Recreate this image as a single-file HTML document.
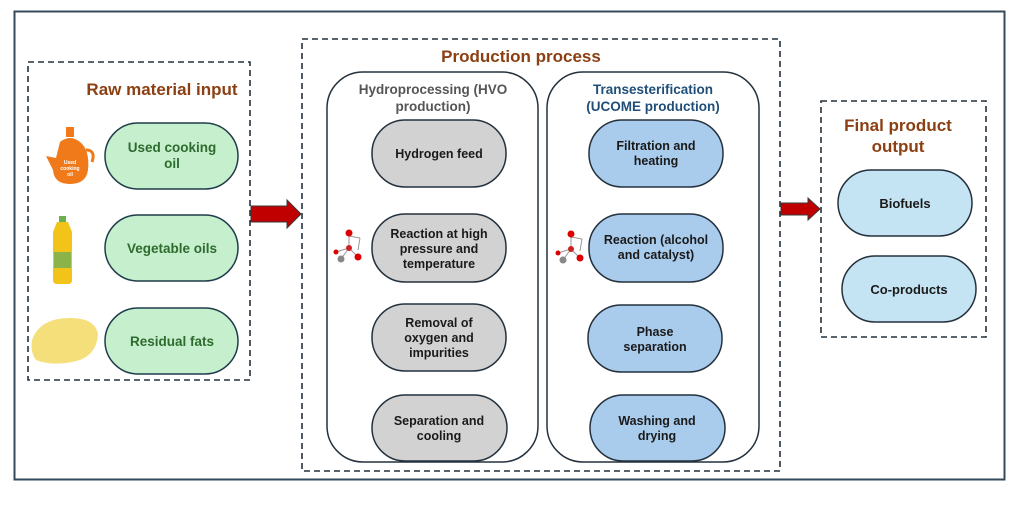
<!DOCTYPE html>
<html><head><meta charset="utf-8"><style>
html,body{margin:0;padding:0;background:#fff;}
svg{display:block;}
text{font-family:"Liberation Sans","DejaVu Sans",sans-serif;font-weight:bold;}
</style></head><body>
<svg width="1024" height="511" viewBox="0 0 1024 511" xmlns="http://www.w3.org/2000/svg">
<rect x="14.5" y="11.5" width="990" height="468" fill="#fff" stroke="#34495a" stroke-width="2"/>
<g fill="none" stroke="#24313d" stroke-width="1.6" stroke-dasharray="6,4">
<rect x="28" y="62" width="222" height="318"/>
<rect x="302" y="39" width="478" height="432"/>
<rect x="821" y="101" width="165" height="236"/>
</g>
<g fill="#8b3f12" font-size="17" text-anchor="middle">
<text x="162" y="95">Raw material input</text>
<text x="521" y="62">Production process</text>
<text x="898" y="131">Final product</text>
<text x="898" y="152">output</text>
</g>
<g fill="#c6efce" stroke="#1f3d4a" stroke-width="1.5">
<rect x="105" y="123" width="133" height="66" rx="33"/>
<rect x="105" y="215" width="133" height="66" rx="33"/>
<rect x="105" y="308" width="133" height="66" rx="33"/>
</g>
<g fill="#2e6b2e" font-size="13.5" text-anchor="middle">
<text x="172" y="152">Used cooking</text>
<text x="172" y="168">oil</text>
<text x="172" y="253">Vegetable oils</text>
<text x="172" y="346">Residual fats</text>
</g>
<g>
<rect x="66" y="127" width="8" height="10" fill="#f07a1a"/>
<path d="M60 142 Q70 134 80 142 Q90 150 88 170 Q86 184 70 184 Q54 184 53 170 L46 156 L56 158 Z" fill="#f07a1a"/>
<path d="M86 150 Q96 150 92 162" fill="none" stroke="#f07a1a" stroke-width="3"/>
<text x="70" y="164" font-size="5" fill="#fff" text-anchor="middle">Used</text>
<text x="70" y="170" font-size="5" fill="#fff" text-anchor="middle">cooking</text>
<text x="70" y="176" font-size="5" fill="#fff" text-anchor="middle">oil</text>
<rect x="59" y="216" width="7" height="6" fill="#6ab04c"/>
<path d="M57 222 L68 222 L72 232 L72 280 Q72 284 68 284 L57 284 Q53 284 53 280 L53 232 Z" fill="#f2c318"/>
<rect x="54" y="252" width="17" height="16" fill="#8ab34a"/>
<path d="M32 340 Q40 318 70 318 Q96 318 98 335 Q96 358 72 362 Q50 366 36 360 Q30 352 32 340 Z" fill="#f5df7a"/>
</g>
<path d="M251 206 L287 206 L287 200 L301 214 L287 228 L287 222 L251 222 Z" fill="#c00000" stroke="#3a3a3a" stroke-width="1"/>
<path d="M781 203 L808 203 L808 198 L820 209 L808 220 L808 215 L781 215 Z" fill="#c00000" stroke="#3a3a3a" stroke-width="1"/>
<g fill="#fff" stroke="#24313d" stroke-width="1.5">
<rect x="327" y="72" width="211" height="390" rx="36"/>
<rect x="547" y="72" width="212" height="390" rx="36"/>
</g>
<g font-size="13.5" text-anchor="middle">
<text x="433" y="94" fill="#555">Hydroprocessing (HVO</text>
<text x="433" y="111" fill="#555">production)</text>
<text x="653" y="94" fill="#1f4e79">Transesterification</text>
<text x="653" y="111" fill="#1f4e79">(UCOME production)</text>
</g>
<g fill="#d2d2d2" stroke="#24313d" stroke-width="1.5">
<rect x="372" y="120" width="134" height="67" rx="33"/>
<rect x="372" y="214" width="134" height="68" rx="33"/>
<rect x="372" y="304" width="134" height="67" rx="33"/>
<rect x="372" y="395" width="135" height="66" rx="33"/>
</g>
<g fill="#a9cbec" stroke="#24313d" stroke-width="1.5">
<rect x="589" y="120" width="134" height="67" rx="33"/>
<rect x="589" y="214" width="134" height="68" rx="33"/>
<rect x="588" y="305" width="134" height="67" rx="33"/>
<rect x="590" y="395" width="135" height="66" rx="33"/>
</g>
<g fill="#1a1a1a" font-size="12.5" text-anchor="middle">
<text x="439" y="158">Hydrogen feed</text>
<text x="439" y="238">Reaction at high</text>
<text x="439" y="253">pressure and</text>
<text x="439" y="268">temperature</text>
<text x="439" y="327">Removal of</text>
<text x="439" y="342">oxygen and</text>
<text x="439" y="357">impurities</text>
<text x="439" y="425">Separation and</text>
<text x="439" y="440">cooling</text>
<text x="656" y="150">Filtration and</text>
<text x="656" y="165">heating</text>
<text x="656" y="244">Reaction (alcohol</text>
<text x="656" y="259">and catalyst)</text>
<text x="655" y="336">Phase</text>
<text x="655" y="351">separation</text>
<text x="657" y="425">Washing and</text>
<text x="657" y="440">drying</text>
</g>
<g id="mol">
<g stroke="#999" stroke-width="1"><line x1="349" y1="233" x2="349" y2="248"/><line x1="349" y1="248" x2="336" y2="252"/><line x1="349" y1="248" x2="341" y2="259"/><line x1="349" y1="248" x2="358" y2="257"/><line x1="349" y1="236" x2="360" y2="238"/><line x1="360" y1="238" x2="358" y2="250"/></g>
<circle cx="349" cy="233" r="3.5" fill="#d00"/><circle cx="349" cy="248" r="3" fill="#c22"/>
<circle cx="336" cy="252" r="2.5" fill="#d00"/><circle cx="341" cy="259" r="3.5" fill="#888"/><circle cx="358" cy="257" r="3.5" fill="#d00"/>
</g>
<use href="#mol" x="222" y="1"/>
<g fill="#c5e4f3" stroke="#24313d" stroke-width="1.5">
<rect x="838" y="170" width="134" height="66" rx="33"/>
<rect x="842" y="256" width="134" height="66" rx="33"/>
</g>
<g fill="#1a1a1a" font-size="13" text-anchor="middle">
<text x="905" y="208">Biofuels</text>
<text x="909" y="294">Co-products</text>
</g>
</svg>
</body></html>
